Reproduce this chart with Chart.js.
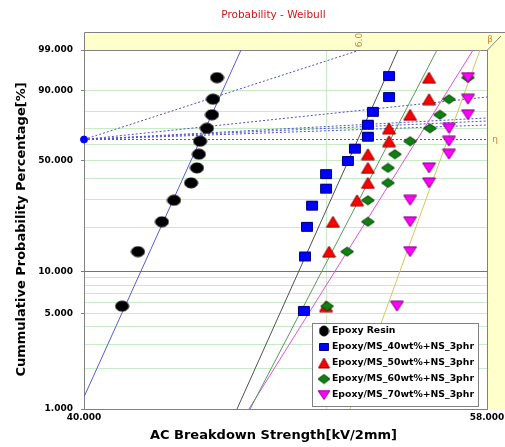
<!DOCTYPE html>
<html>
<head>
<meta charset="utf-8">
<script src="https://cdn.jsdelivr.net/npm/chart.js@4.4.1/dist/chart.umd.min.js"></script>
<style>
  html, body { margin: 0; padding: 0; background: #fff; }
  #wrap { width: 505px; height: 447px; }
</style>
</head>
<body>
<div id="wrap"><canvas id="weibull" width="505" height="447"></canvas></div>
<script>
const chartTitle = "Probability - Weibull";
const xTitle = "AC Breakdown Strength[kV/2mm]";
const yTitle = "Cummulative Probability Percentage[%]";

const seriesNames = [
  "Epoxy Resin",
  "Epoxy/MS_40wt%+NS_3phr",
  "Epoxy/MS_50wt%+NS_3phr",
  "Epoxy/MS_60wt%+NS_3phr",
  "Epoxy/MS_70wt%+NS_3phr"
];

// cumulative probability [%] of the plotted points
const prob12 = [5.65, 13.71, 21.77, 29.84, 37.90, 45.97, 54.03, 62.10, 70.16, 78.23, 86.29, 94.35];
const prob13 = [5.22, 12.69, 20.15, 27.61, 35.07, 42.54, 50.00, 57.46, 64.93, 72.39, 79.85, 87.31, 94.78];

// AC breakdown strength [kV/2mm], same order as the probabilities
const epoxyResin = [41.43, 42.04, 42.98, 43.46, 44.15, 44.39, 44.47, 44.52, 44.80, 45.01, 45.05, 45.22];
const ms40 = [48.99, 49.04, 49.13, 49.36, 50.00, 50.00, 51.02, 51.35, 51.97, 51.97, 52.21, 52.99, 52.99];
const ms50 = [50.00, 50.14, 50.32, 51.45, 51.97, 51.97, 51.97, 52.99, 52.99, 54.03, 54.98, 54.98];
const ms60 = [50.05, 50.98, 51.97, 51.97, 52.94, 52.94, 53.28, 54.03, 55.03, 55.54, 56.00, 56.99];
const ms70 = [53.38, 54.03, 54.03, 54.03, 54.98, 54.98, 56.00, 56.00, 56.00, 56.99, 56.99, 56.99];

// fitted lines: strength where each line meets 1% and 99%
const fitAt1 = [39.80, 46.06, 46.62, 46.57, 51.12];
const fitAt99 = [46.23, 53.43, 55.39, 57.26, 57.63];

// dotted beta / eta construction lines from the pivot point
const pivotX = 40;
const pivotProb = 63.2;
const guideEndX = [51.59, 58, 58, 58, 58, 58];
const guideEndProb = [99, 87.3, 76.4, 74.6, 72.2, 63.2];
const betaLabel = "6.0";

// axis ticks
const xTicks = [40, 50, 58];
const xLabeled = [40, 58];
const yTicks = [1, 2, 3, 4, 5, 6, 7, 8, 9, 10, 20, 30, 40, 50, 60, 70, 80, 90, 99];
const yLabeled = [1, 5, 10, 50, 90, 99];

const FONT = "'DejaVu Sans', Verdana, sans-serif";

// Weibull probability axis: ln(-ln(1-F))
const weib = p => Math.log(-Math.log(1 - p / 100));

function makeMarker(shape, w, h, fill, stroke) {
  const c = document.createElement("canvas");
  c.width = w + 2;
  c.height = h + 2;
  const g = c.getContext("2d");
  const cx = (w + 2) / 2, cy = (h + 2) / 2;
  g.fillStyle = fill;
  g.strokeStyle = stroke;
  g.lineWidth = 1;
  g.beginPath();
  if (shape === "ellipse") g.ellipse(cx, cy, w / 2, h / 2, 0, 0, Math.PI * 2);
  else if (shape === "rect") g.rect(1.5, 1.5, w - 1, h - 1);
  else if (shape === "triUp") { g.moveTo(cx, 1); g.lineTo(w + 1, h + 1); g.lineTo(1, h + 1); g.closePath(); }
  else if (shape === "diamond") { g.moveTo(cx, 1); g.lineTo(w + 1, cy); g.lineTo(cx, h + 1); g.lineTo(1, cy); g.closePath(); }
  else if (shape === "triDown") { g.moveTo(1, 1); g.lineTo(w + 1, 1); g.lineTo(cx, h + 1); g.closePath(); }
  g.fill();
  g.stroke();
  return c;
}

const markers = [
  makeMarker("ellipse", 13, 10, "#000000", "#000000"),
  makeMarker("rect", 12, 10, "#0000ff", "#00007a"),
  makeMarker("triUp", 13, 11, "#ff0000", "#8a0000"),
  makeMarker("diamond", 13, 9, "#108010", "#004000"),
  makeMarker("triDown", 13, 10, "#ff00ff", "#800080")
];
const legendMarkers = [
  makeMarker("ellipse", 9, 10, "#000000", "#000000"),
  makeMarker("rect", 10, 8, "#0000ff", "#00007a"),
  makeMarker("triUp", 11, 10, "#ff0000", "#8a0000"),
  makeMarker("diamond", 12, 9, "#108010", "#004000"),
  makeMarker("triDown", 12, 9, "#ff00ff", "#800080")
];
const fitColors = ["#5a5ad2", "#505050", "#5a9a5a", "#e050e0", "#cfc860"];

const xValues = [epoxyResin, ms40, ms50, ms60, ms70];
const probValues = [prob12, prob13, prob12, prob12, prob12];

const datasets = [];
xValues.forEach((xs, i) => {
  datasets.push({
    label: seriesNames[i],
    data: xs.map((x, j) => ({ x: x, y: weib(probValues[i][j]) })),
    pointStyle: markers[i],
    pointRadius: 6,
    showLine: false,
    order: 6 - i,
    clip: 8
  });
});
fitAt1.forEach((x, i) => {
  datasets.push({
    label: "fit " + i,
    data: [{ x: x, y: weib(1) }, { x: fitAt99[i], y: weib(99) }],
    showLine: true,
    borderColor: fitColors[i],
    borderWidth: 1,
    pointRadius: 0,
    order: 20
  });
});
guideEndX.forEach((x, i) => {
  datasets.push({
    label: "guide " + i,
    data: [{ x: pivotX, y: weib(pivotProb) }, { x: x, y: weib(guideEndProb[i]) }],
    showLine: true,
    borderColor: "#5050c8",
    borderWidth: 1,
    borderDash: [2, 2],
    pointRadius: 0,
    order: 20
  });
});
datasets.push({
  label: "pivot",
  data: [{ x: pivotX, y: weib(pivotProb) }],
  pointRadius: 3.5,
  backgroundColor: "#0000ff",
  borderColor: "#0000ff",
  order: 0,
  clip: false
});

const frame = {
  id: "frame",
  beforeDraw(chart) {
    const { ctx } = chart;
    const { left, top, right, bottom } = chart.chartArea;
    const d = 18;
    ctx.save();
    ctx.fillStyle = "#ffffcc";
    ctx.beginPath();
    ctx.moveTo(left, top - d);
    ctx.lineTo(right + d, top - d);
    ctx.lineTo(right + d, bottom);
    ctx.lineTo(right, bottom);
    ctx.lineTo(right, top);
    ctx.lineTo(left, top);
    ctx.closePath();
    ctx.fill();
    ctx.strokeStyle = "#808080";
    ctx.lineWidth = 1;
    ctx.beginPath();
    ctx.moveTo(left + 0.5, top);
    ctx.lineTo(left + 0.5, top - d + 0.5);
    ctx.lineTo(right + d, top - d + 0.5);
    ctx.moveTo(right + 0.5, top);
    ctx.lineTo(right + d - 4, top - d + 4);
    ctx.moveTo(right + 0.5, top);
    ctx.lineTo(right + 0.5, bottom);
    ctx.stroke();
    ctx.restore();
  },
  afterDraw(chart) {
    const { ctx, scales } = chart;
    const { left, top, right, bottom } = chart.chartArea;
    const midX = left + (right - left) * 0.47;
    ctx.save();
    // titles
    ctx.textAlign = "center";
    ctx.textBaseline = "middle";
    ctx.fillStyle = "#cc1818";
    ctx.font = "10.5px " + FONT;
    ctx.fillText(chartTitle, midX, 15);
    ctx.fillStyle = "#000000";
    ctx.font = "bold 13px " + FONT;
    ctx.fillText(xTitle, midX, chart.height - 11);

    // beta / eta scale labels
    ctx.fillStyle = "#c8823c";
    ctx.font = "9px " + FONT;
    ctx.save();
    ctx.translate(scales.x.getPixelForValue(guideEndX[0]), top - 10);
    ctx.rotate(-Math.PI / 2);
    ctx.fillText(betaLabel, 0, 0);
    ctx.restore();
    ctx.fillText("\u03b2", right + 3, top - 10);
    ctx.fillText("\u03b7", right + 8, scales.y.getPixelForValue(weib(pivotProb)));

    // legend box
    const bw = 166, bh = 83;
    const bx = right - 9 - bw, by = bottom - 3 - bh;
    ctx.fillStyle = "#ffffff";
    ctx.fillRect(bx, by, bw, bh);
    ctx.strokeStyle = "#808080";
    ctx.strokeRect(bx + 0.5, by + 0.5, bw, bh);
    ctx.font = "bold 9.3px " + FONT;
    ctx.textAlign = "left";
    ctx.fillStyle = "#000000";
    seriesNames.forEach((name, i) => {
      const cy = by + 8 + i * 16;
      const m = legendMarkers[i];
      ctx.drawImage(m, bx + 12 - m.width / 2, cy - m.height / 2);
      ctx.fillText(name, bx + 20, cy);
    });
    ctx.restore();
  }
};

new Chart(document.getElementById("weibull"), {
  type: "scatter",
  data: { datasets: datasets },
  plugins: [frame],
  options: {
    responsive: false,
    animation: false,
    layout: { padding: { left: 10, right: 18, top: 50, bottom: 0 } },
    plugins: {
      legend: { display: false },
      tooltip: { enabled: false },
      title: { display: false }
    },
    scales: {
      x: {
        type: "logarithmic",
        min: 40,
        max: 58,
        afterBuildTicks: s => { s.ticks = xTicks.map(v => ({ value: v })); },
        afterFit: s => { s.height = 38; },
        ticks: {
          autoSkip: false,
          maxRotation: 0,
          padding: 0,
          color: "#000",
          font: { family: FONT, size: 9, weight: "bold" },
          callback: v => (xLabeled.includes(v) ? v.toFixed(3) : "")
        },
        grid: {
          color: c => (c.index === 1 ? "#c8ecc8" : "#808080"),
          tickLength: 3,
          tickColor: "rgba(0,0,0,0)"
        },
        border: { color: "#808080" },
        title: { display: false }
      },
      y: {
        type: "linear",
        min: weib(1),
        max: weib(99),
        afterBuildTicks: s => { s.ticks = yTicks.map(p => ({ value: weib(p) })); },
        afterFit: s => { s.width = 74; },
        ticks: {
          autoSkip: false,
          padding: 8,
          color: "#000",
          font: { family: FONT, size: 9, weight: "bold" },
          callback: (v, i) => (yLabeled.includes(yTicks[i]) ? yTicks[i].toFixed(3) : "")
        },
        grid: {
          color: c => {
            const p = yTicks[c.index];
            if (p === 10) return "#d84a4a";
            if (p === 1 || p === 99) return "#808080";
            return "#c8ecc8";
          },
          tickLength: 3,
          tickColor: c => {
            const p = yTicks[c.index];
            if (p === 10) return "#d84a4a";
            return yLabeled.includes(p) ? "#808080" : "rgba(0,0,0,0)";
          }
        },
        border: { color: "#808080" },
        title: {
          display: true,
          text: yTitle,
          color: "#000",
          font: { family: FONT, size: 13, weight: "bold" },
          padding: { top: 4, bottom: 0 }
        }
      }
    }
  }
});
</script>
</body>
</html>
